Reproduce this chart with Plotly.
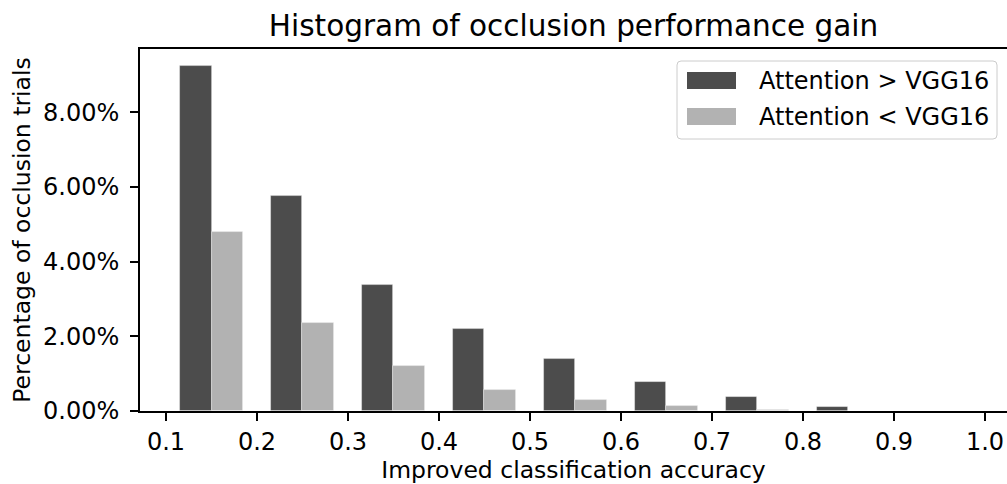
import plotly.graph_objects as go

# Histogram bins (left edges) and percentage of trials per bin
bin_left = [0.1, 0.2, 0.3, 0.4, 0.5, 0.6, 0.7, 0.8, 0.9]
attn_better = [9.24, 5.76, 3.37, 2.20, 1.40, 0.77, 0.38, 0.12, 0.0]
attn_worse = [4.80, 2.35, 1.20, 0.57, 0.29, 0.13, 0.02, 0.0, 0.0]
series_names = ["Attention > VGG16", "Attention < VGG16"]
y_ticks = [0, 2, 4, 6, 8]
y_tick_text = ["0.00%", "2.00%", "4.00%", "6.00%", "8.00%"]
x_ticks = [0.1, 0.2, 0.3, 0.4, 0.5, 0.6, 0.7, 0.8, 0.9, 1.0]

DARK = "#4c4c4c"
LIGHT = "#b2b2b2"
FONT = "DejaVu Sans"

W, H = 1007, 484
ML, MR, MT, MB = 140, 0, 49, 73
PW, PH = W - ML - MR, H - MT - MB


def px_x(p):
    return (p - ML) / PW


def px_y(p):
    return (H - MB - p) / PH


fig = go.Figure()
fig.add_trace(go.Bar(
    x=bin_left, y=attn_better, name=series_names[0],
    offset=0.015, width=0.035, marker_color=DARK,
    marker_line=dict(color="rgba(255,255,255,0.45)", width=0.8),
    showlegend=False,
))
fig.add_trace(go.Bar(
    x=bin_left, y=attn_worse, name=series_names[1],
    offset=0.05, width=0.035, marker_color=LIGHT,
    marker_line=dict(color="rgba(255,255,255,0.45)", width=0.8),
    showlegend=False,
))

# Legend drawn as a framed box with wide swatches
shapes = []
x0, x1, y0, y1 = 677, 997, 61, 139
r = 4
path = (
    f"M {px_x(x0 + r)},{px_y(y0)} L {px_x(x1 - r)},{px_y(y0)} "
    f"Q {px_x(x1)},{px_y(y0)} {px_x(x1)},{px_y(y0 + r)} "
    f"L {px_x(x1)},{px_y(y1 - r)} Q {px_x(x1)},{px_y(y1)} {px_x(x1 - r)},{px_y(y1)} "
    f"L {px_x(x0 + r)},{px_y(y1)} Q {px_x(x0)},{px_y(y1)} {px_x(x0)},{px_y(y1 - r)} "
    f"L {px_x(x0)},{px_y(y0 + r)} Q {px_x(x0)},{px_y(y0)} {px_x(x0 + r)},{px_y(y0)} Z"
)
shapes.append(dict(type="path", path=path, xref="paper", yref="paper",
                   fillcolor="rgba(255,255,255,0.8)",
                   line=dict(color="#cccccc", width=1), layer="above"))
annotations = []
for (sy0, sy1, ty), color, label in zip(
        [(72, 89, 81), (108, 125, 117)], [DARK, LIGHT], series_names):
    shapes.append(dict(type="rect", xref="paper", yref="paper",
                       x0=px_x(687), x1=px_x(736), y0=px_y(sy1), y1=px_y(sy0),
                       fillcolor=color, line=dict(width=0), layer="above"))
    annotations.append(dict(text=label, xref="paper", yref="paper",
                            x=px_x(757), y=px_y(ty), xanchor="left",
                            yanchor="middle", showarrow=False,
                            font=dict(family=FONT, size=24, color="black")))

fig.update_layout(
    width=W, height=H,
    margin=dict(l=ML, r=MR, t=MT, b=MB, pad=0),
    paper_bgcolor="white", plot_bgcolor="white",
    barmode="overlay", bargap=0,
    font=dict(family=FONT, size=24, color="black"),
    title=dict(text="Histogram of occlusion performance gain",
               x=px_x(573.5), xref="paper", xanchor="center",
               y=1 - 26 / H, yref="container", yanchor="middle",
               font=dict(family=FONT, size=29.5, color="black")),
    shapes=shapes, annotations=annotations,
    xaxis=dict(
        range=[0.07143, 1.0242], tickvals=x_ticks, tickformat=".1f",
        ticks="outside", ticklen=8, tickwidth=1.8, tickcolor="black",
        tickfont=dict(size=24),
        showline=True, linecolor="black", linewidth=1.8, mirror=True,
        showgrid=False, zeroline=False,
        title=dict(text="Improved classification accuracy", standoff=6,
                   font=dict(size=23.5)),
    ),
    yaxis=dict(
        range=[0, 9.69], tickmode="array", tickvals=y_ticks,
        ticktext=y_tick_text,
        ticks="outside", ticklen=8, tickwidth=1.8, tickcolor="black",
        tickfont=dict(size=24), ticklabelstandoff=6,
        showline=True, linecolor="black", linewidth=1.8, mirror=False,
        showgrid=False, zeroline=False,
        title=dict(text="Percentage of occlusion trials", standoff=6,
                   font=dict(size=23.5)),
    ),
)

fig.write_html("out.html")
